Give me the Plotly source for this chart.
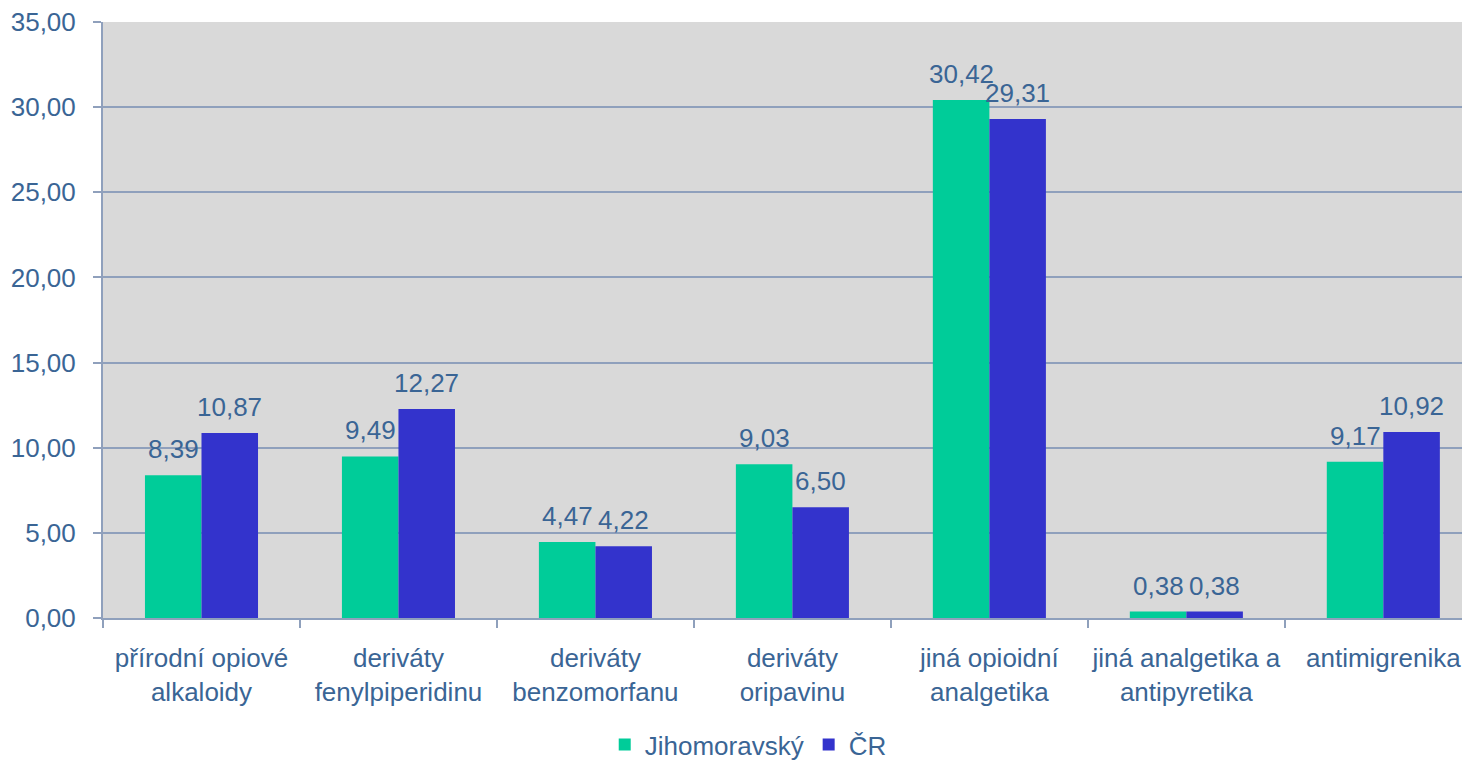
import plotly.graph_objects as go

categories = [
    "přírodní opiové<br>alkaloidy",
    "deriváty<br>fenylpiperidinu",
    "deriváty<br>benzomorfanu",
    "deriváty<br>oripavinu",
    "jiná opioidní<br>analgetika",
    "jiná analgetika a<br>antipyretika",
    "antimigrenika",
]
jihomoravsky = [8.39, 9.49, 4.47, 9.03, 30.42, 0.38, 9.17]
cr = [10.87, 12.27, 4.22, 6.50, 29.31, 0.38, 10.92]

text_color = "#3a6595"
grid_color = "#8fa0bc"
font_family = "Liberation Sans, Arial, sans-serif"
fs = 26

fig = go.Figure()
fig.add_trace(go.Bar(
    x=categories, y=jihomoravsky, name="Jihomoravský",
    marker=dict(color="#00CC99", line=dict(width=0)),
))
fig.add_trace(go.Bar(
    x=categories, y=cr, name="ČR",
    marker=dict(color="#3333CC", line=dict(width=0)),
))

def fmt(v):
    return f"{v:.2f}".replace(".", ",")

annotations = []
for cat, v in zip(categories, jihomoravsky):
    annotations.append(dict(x=cat, y=v, text=fmt(v), showarrow=False,
                            xanchor="center", yanchor="bottom", xshift=-28, yshift=9,
                            font=dict(size=fs, color=text_color, family=font_family)))
for cat, v in zip(categories, cr):
    annotations.append(dict(x=cat, y=v, text=fmt(v), showarrow=False,
                            xanchor="center", yanchor="bottom", xshift=28, yshift=9,
                            font=dict(size=fs, color=text_color, family=font_family)))

fig.update_layout(
    width=1462, height=760,
    margin=dict(l=95, r=0, t=14, b=150, autoexpand=False),
    paper_bgcolor="white",
    plot_bgcolor="#d9d9d9",
    barmode="group",
    bargap=0.426,
    bargroupgap=0,
    separators=", ",
    font=dict(family=font_family, size=fs, color=text_color),
    annotations=annotations,
    legend=dict(
        orientation="h", x=0.472, xanchor="center", y=-0.2517, yanchor="bottom",
        font=dict(size=fs, color=text_color),
        traceorder="normal", itemwidth=30,
    ),
    showlegend=True,
)
fig.update_xaxes(
    range=[-0.5, 6.44],
    automargin=False,
    tickangle=0,
    showgrid=False,
    showline=True, linecolor=grid_color, linewidth=2,
    ticks="outside", tickson="boundaries", ticklen=8, tickcolor=grid_color, tickwidth=2,
    tickfont=dict(size=fs, color=text_color),
    ticklabelstandoff=16,
)
fig.update_yaxes(
    range=[0, 35], dtick=5, tickformat=".2f",
    automargin=False,
    ticklabeloverflow="allow",
    showgrid=True, gridcolor=grid_color, gridwidth=2,
    zeroline=False,
    showline=True, linecolor=grid_color, linewidth=2,
    ticks="outside", ticklen=8, tickcolor=grid_color, tickwidth=2,
    tickfont=dict(size=fs, color=text_color),
    ticklabelstandoff=12,
)

fig.write_html("out.html")
